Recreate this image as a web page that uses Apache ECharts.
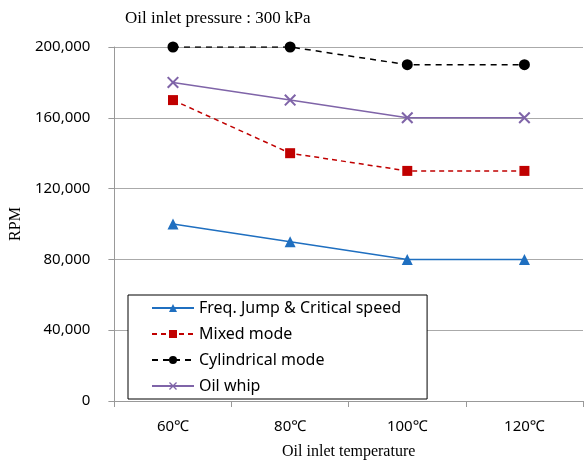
<!DOCTYPE html>
<html><head><meta charset="utf-8">
<script src="https://cdn.jsdelivr.net/npm/echarts@6/dist/echarts.min.js"></script>
<style>html,body{margin:0;padding:0;background:#fff}#c{width:584px;height:465px}</style>
</head><body><div id="c"></div>
<script>
const categories = ['60℃', '80℃', '100℃', '120℃'];
const freqJump = [100000, 90000, 80000, 80000];
const mixedMode = [170000, 140000, 130000, 130000];
const cylindricalMode = [200000, 200000, 190000, 190000];
const oilWhip = [180000, 170000, 160000, 160000];
const yTicks = [0, 40000, 80000, 120000, 160000, 200000];

const sans = '"Noto Sans", "DejaVu Sans", sans-serif';
const serif = '"Liberation Serif", "DejaVu Serif", serif';
const crossPath = 'path://M0,1.2 L1.2,0 L10,8.8 L8.8,10 Z M8.8,0 L10,1.2 L1.2,10 L0,8.8 Z';

const chart = echarts.init(document.getElementById('c'));
chart.setOption({
  animation: false,
  backgroundColor: '#fff',
  title: {
    text: 'Oil inlet pressure : 300 kPa',
    left: 120, top: 5,
    textStyle: {fontFamily: serif, fontSize: 17, fontWeight: 'normal', color: '#000'}
  },
  grid: {left: 111, right: 1, top: 47, bottom: 61},
  legend: {
    orient: 'vertical',
    left: 128, top: 295,
    backgroundColor: '#fff',
    borderColor: '#000', borderWidth: 1,
    padding: [5, 26, 5, 23],
    itemWidth: 42, itemHeight: 10, itemGap: 10,
    textStyle: {fontFamily: sans, fontSize: 16, color: '#000'},
    data: ['Freq. Jump & Critical speed', 'Mixed mode', 'Cylindrical mode', 'Oil whip']
  },
  xAxis: {
    type: 'category',
    data: categories,
    name: 'Oil inlet temperature',
    nameLocation: 'middle', nameGap: 43,
    nameTextStyle: {fontFamily: serif, fontSize: 16, color: '#000'},
    axisLine: {lineStyle: {color: '#999'}},
    axisTick: {show: true, length: 6, lineStyle: {color: '#999'}},
    axisLabel: {fontFamily: sans, fontSize: 15, color: '#000', margin: 18}
  },
  yAxis: {
    type: 'value',
    min: yTicks[0], max: yTicks[yTicks.length - 1], interval: 40000,
    name: 'RPM',
    nameLocation: 'middle', nameGap: 85, nameRotate: 90,
    nameTextStyle: {fontFamily: serif, fontSize: 16, color: '#000'},
    axisLine: {show: true, lineStyle: {color: '#999'}},
    axisTick: {show: true, length: 6, lineStyle: {color: '#999'}},
    splitLine: {lineStyle: {color: '#aaa'}},
    axisLabel: {
      fontFamily: sans, fontSize: 15, color: '#000', margin: 24,
      formatter: v => v.toLocaleString('en-US')
    }
  },
  series: [
    {
      name: 'Freq. Jump & Critical speed', type: 'line', data: freqJump,
      symbol: 'triangle', symbolSize: 11,
      itemStyle: {color: '#1F6FC0'},
      lineStyle: {color: '#1F6FC0', width: 1.5, type: 'solid'}
    },
    {
      name: 'Mixed mode', type: 'line', data: mixedMode,
      symbol: 'rect', symbolSize: 10,
      itemStyle: {color: '#C00000'},
      lineStyle: {color: '#C00000', width: 1.5, type: [5, 4]}
    },
    {
      name: 'Cylindrical mode', type: 'line', data: cylindricalMode,
      symbol: 'circle', symbolSize: 11,
      itemStyle: {color: '#000'},
      lineStyle: {color: '#000', width: 1.5, type: [6, 5]}
    },
    {
      name: 'Oil whip', type: 'line', data: oilWhip,
      symbol: crossPath, symbolSize: 12,
      itemStyle: {color: '#7F64A8'},
      lineStyle: {color: '#7F64A8', width: 1.5, type: 'solid'}
    }
  ]
});
</script></body></html>
